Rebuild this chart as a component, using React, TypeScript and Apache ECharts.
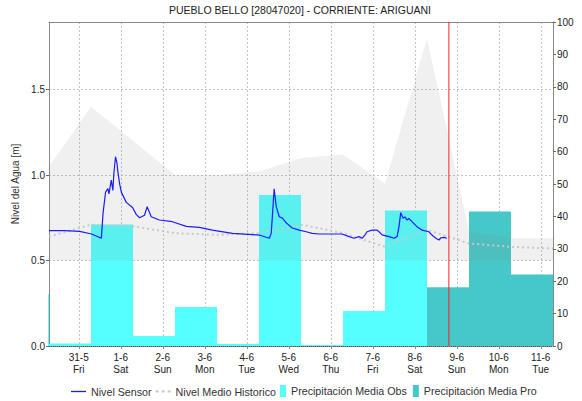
import React, { useEffect, useRef } from "react";
import * as echarts from "echarts";

const chartTitle = "PUEBLO BELLO [28047020] - CORRIENTE: ARIGUANI";
const yLeftName = "Nivel del Agua [m]";
const xMin = "2024-05-30 07:00";
const xMax = "2024-06-11 07:00";
const redLineTime = "2024-06-08 19:30";

const tickDays = [
  "2024-05-31 00:00", "2024-06-01 00:00", "2024-06-02 00:00", "2024-06-03 00:00",
  "2024-06-04 00:00", "2024-06-05 00:00", "2024-06-06 00:00", "2024-06-07 00:00",
  "2024-06-08 00:00", "2024-06-09 00:00", "2024-06-10 00:00", "2024-06-11 00:00",
];
const tickDates = ["31-5", "1-6", "2-6", "3-6", "4-6", "5-6", "6-6", "7-6", "8-6", "9-6", "10-6", "11-6"];
const tickWeekdays = ["Fri", "Sat", "Sun", "Mon", "Tue", "Wed", "Thu", "Fri", "Sat", "Sun", "Mon", "Tue"];

// Nivel Sensor
const sensorTimes = [
  "2024-05-30 07:00", "2024-05-30 16:00", "2024-05-31 00:30", "2024-05-31 07:20",
  "2024-05-31 12:55", "2024-05-31 13:55", "2024-05-31 15:20", "2024-05-31 16:40",
  "2024-05-31 17:15", "2024-05-31 18:35", "2024-05-31 19:30", "2024-05-31 20:05",
  "2024-05-31 21:00", "2024-05-31 21:50", "2024-05-31 22:20", "2024-05-31 23:20",
  "2024-06-01 00:20", "2024-06-01 03:10", "2024-06-01 06:45", "2024-06-01 08:50",
  "2024-06-01 10:45", "2024-06-01 13:35", "2024-06-01 15:05", "2024-06-01 17:25",
  "2024-06-01 22:05", "2024-06-02 05:30", "2024-06-02 13:25", "2024-06-02 20:55",
  "2024-06-03 04:20", "2024-06-03 15:50", "2024-06-04 07:10", "2024-06-04 12:55",
  "2024-06-04 14:00", "2024-06-04 15:40", "2024-06-04 16:50", "2024-06-04 18:35",
  "2024-06-04 20:20", "2024-06-04 22:35", "2024-06-05 02:00", "2024-06-05 06:00",
  "2024-06-05 10:00", "2024-06-05 13:25", "2024-06-05 17:25", "2024-06-06 06:30",
  "2024-06-06 10:30", "2024-06-06 13:20", "2024-06-06 16:10", "2024-06-06 17:55",
  "2024-06-06 19:35", "2024-06-06 20:45", "2024-06-06 23:35", "2024-06-07 02:30",
  "2024-06-07 03:35", "2024-06-07 05:20", "2024-06-07 09:20", "2024-06-07 12:10",
  "2024-06-07 13:55", "2024-06-07 15:00", "2024-06-07 16:00", "2024-06-07 17:20",
  "2024-06-07 18:25", "2024-06-07 19:35", "2024-06-07 20:45", "2024-06-07 22:25",
  "2024-06-08 01:15", "2024-06-08 04:05", "2024-06-08 08:05", "2024-06-08 09:50",
  "2024-06-08 12:05", "2024-06-08 13:50", "2024-06-08 15:00", "2024-06-08 16:40",
  "2024-06-08 18:25",
];
const sensorValues = [
  0.675, 0.675, 0.67, 0.655,
  0.63, 0.78, 0.9, 0.92,
  0.89, 0.97, 0.91, 1.01,
  1.107, 1.07, 1.02, 0.95,
  0.9, 0.84, 0.81, 0.77,
  0.75, 0.765, 0.815, 0.756,
  0.737, 0.727, 0.7, 0.694,
  0.678, 0.659, 0.649, 0.63,
  0.66, 0.92, 0.815, 0.756,
  0.748, 0.72, 0.69, 0.678,
  0.668, 0.659, 0.655, 0.655,
  0.64, 0.63, 0.64, 0.63,
  0.65, 0.668, 0.678, 0.678,
  0.668, 0.65, 0.64, 0.63,
  0.64, 0.7, 0.78, 0.747,
  0.755, 0.737, 0.745, 0.727,
  0.698, 0.678, 0.668, 0.649,
  0.63, 0.62, 0.633, 0.635,
  0.63,
];

// Historic daily values (07:00 each day)
const histTimes = [
  "2024-05-30 07:00", "2024-05-31 07:00", "2024-06-01 07:00", "2024-06-02 07:00",
  "2024-06-03 07:00", "2024-06-04 07:00", "2024-06-05 07:00", "2024-06-06 07:00",
  "2024-06-07 07:00", "2024-06-08 07:00", "2024-06-09 07:00", "2024-06-10 07:00",
  "2024-06-11 07:00",
];
const histMean = [0.64, 0.71, 0.7, 0.66, 0.65, 0.66, 0.71, 0.66, 0.58, 0.68, 0.6, 0.58, 0.57];
const histMin = [0.5, 0.5, 0.5, 0.5, 0.5, 0.5, 0.5, 0.5, 0.5, 0.5, 0.5, 0.5, 0.5];
const histMax = [1.05, 1.4, 1.2, 1.0, 1.0, 1.02, 1.1, 1.12, 0.95, 1.8, 0.67, 0.63, 0.63];

// Daily precipitation (07:00 to 07:00)
const obsStarts = [
  "2024-05-29 07:00", "2024-05-30 07:00", "2024-05-31 07:00", "2024-06-01 07:00",
  "2024-06-02 07:00", "2024-06-03 07:00", "2024-06-04 07:00", "2024-06-05 07:00",
  "2024-06-06 07:00", "2024-06-07 07:00",
];
const obsValues = [16, 0.8, 37.5, 3.1, 12.0, 0.6, 46.6, 0.3, 10.8, 41.8];
const proStarts = ["2024-06-08 07:00", "2024-06-09 07:00", "2024-06-10 07:00"];
const proValues = [18.1, 41.5, 22.1];

// time string -> hours since 2024-05-31 00:00
const ORIGIN = Date.UTC(2024, 4, 31, 0, 0);
const hrs = (s: string) => {
  const [d, t] = s.split(" ");
  const [y, m, dd] = d.split("-").map(Number);
  const [h, mi] = t.split(":").map(Number);
  return (Date.UTC(y, m - 1, dd, h, mi) - ORIGIN) / 3600000;
};

export default function App() {
  const ref = useRef<HTMLDivElement>(null);
  useEffect(() => {
    if (!ref.current) return;
    const chart = echarts.init(ref.current, undefined, { renderer: "svg" });
    const tickH = tickDays.map(hrs);
    const font = "'Liberation Sans', Arial, sans-serif";

    const barRender = (params: any, api: any) => {
      const s = api.coord([api.value(0), 0]);
      const e = api.coord([api.value(1), api.value(2)]);
      const cs = params.coordSys;
      const shape = echarts.graphic.clipRectByRect(
        { x: s[0], y: e[1], width: e[0] - s[0], height: s[1] - e[1] },
        { x: cs.x - 1, y: cs.y, width: cs.width + 1, height: cs.height }
      );
      if (!shape) return null;
      return { type: "rect", shape, style: { fill: api.visual("color") } };
    };

    const bandRender = (params: any, api: any) => {
      const top = histTimes.map((t, i) => api.coord([hrs(t), histMax[i]]));
      const bot = histTimes.map((t, i) => api.coord([hrs(t), histMin[i]])).reverse();
      return {
        type: "polygon",
        shape: { points: top.concat(bot) },
        style: { fill: "rgba(128,128,128,0.12)" },
      };
    };

    const redRender = (params: any, api: any) => {
      const p = api.coord([api.value(0), 0]);
      const cs = params.coordSys;
      return {
        type: "line",
        shape: { x1: p[0], y1: cs.y, x2: p[0], y2: cs.y + cs.height },
        style: { stroke: "#ff2020", lineWidth: 1 },
      };
    };

    const gridLine = { show: true, lineStyle: { color: "#c4c4c4", type: [2, 2], width: 1 } };
    const legendText = { fontSize: 10.7, color: "#333", fontFamily: font };

    const option: any = {
      animation: false,
      textStyle: { fontFamily: font },
      title: {
        text: chartTitle,
        left: 169,
        top: 4,
        padding: 0,
        textStyle: { fontSize: 10.5, fontWeight: "normal", color: "#222", fontFamily: font },
      },
      grid: { left: 49, right: 29, top: 22, bottom: 55 },
      legend: [
        {
          bottom: 4,
          left: 71,
          padding: 0,
          itemGap: 4,
          itemWidth: 15,
          itemHeight: 12,
          textStyle: legendText,
          data: [
            { name: "Nivel Sensor", icon: "path://M0,0h15v1.3h-15z" },
            { name: "Nivel Medio Historico", icon: "path://M0,0h3v2h-3zM6,0h3v2h-3zM12,0h3v2h-3z" },
          ],
        },
        {
          bottom: 4,
          left: 280,
          padding: 0,
          itemGap: 6,
          itemWidth: 6,
          itemHeight: 12,
          textStyle: legendText,
          data: [
            { name: "Precipitación Media Obs", icon: "rect" },
            { name: "Precipitación Media Pro", icon: "rect" },
          ],
        },
      ],
      xAxis: [
        {
          type: "value",
          min: hrs(xMin),
          max: hrs(xMax),
          axisLine: { onZero: false, lineStyle: { color: "#555", type: "dotted" } },
          axisTick: { show: true, length: 3, customValues: tickH, lineStyle: { color: "#888" } },
          axisLabel: {
            customValues: tickH,
            color: "#222",
            fontSize: 10,
            lineHeight: 12,
            margin: 5,
            formatter: (v: number) => {
              const i = tickH.indexOf(v);
              return i >= 0 ? tickDates[i] + "\n" + tickWeekdays[i] : "";
            },
          },
          splitLine: gridLine,
        },
        {
          type: "value",
          position: "top",
          min: hrs(xMin),
          max: hrs(xMax),
          axisLine: { show: true, onZero: false, lineStyle: { color: "#888" } },
          axisTick: { show: false },
          axisLabel: { show: false },
          splitLine: { show: false },
        },
      ],
      yAxis: [
        {
          type: "value",
          min: 0,
          max: 1.895,
          interval: 0.5,
          name: yLeftName,
          nameLocation: "middle",
          nameGap: 24,
          nameTextStyle: { fontSize: 10, color: "#333", fontFamily: font },
          axisLine: { show: true, onZero: false, lineStyle: { color: "#888" } },
          axisTick: { show: true, length: 3, lineStyle: { color: "#666" } },
          axisLabel: {
            color: "#222",
            fontSize: 10,
            margin: 4,
            showMaxLabel: false,
            formatter: (v: number) => v.toFixed(1),
          },
          splitLine: gridLine,
        },
        {
          type: "value",
          min: 0,
          max: 100,
          interval: 10,
          position: "right",
          axisLine: { show: true, onZero: false, lineStyle: { color: "#888" } },
          axisTick: { show: true, length: 3, lineStyle: { color: "#666" } },
          axisLabel: { color: "#222", fontSize: 10, margin: 4 },
          splitLine: { show: false },
        },
      ],
      series: [
        {
          name: "Precipitación Media Obs",
          type: "custom",
          yAxisIndex: 1,
          z: 1,
          renderItem: barRender,
          itemStyle: { color: "#55ffff" },
          encode: { x: [0, 1], y: 2 },
          data: obsStarts.map((s, i) => [hrs(s), hrs(s) + 24, obsValues[i]]),
        },
        {
          name: "Precipitación Media Pro",
          type: "custom",
          yAxisIndex: 1,
          z: 1,
          renderItem: barRender,
          itemStyle: { color: "#47c8c8" },
          encode: { x: [0, 1], y: 2 },
          data: proStarts.map((s, i) => [hrs(s), hrs(s) + 24, proValues[i]]),
        },
        {
          name: "band",
          type: "custom",
          z: 2,
          silent: true,
          renderItem: bandRender,
          encode: { x: 0, y: 1 },
          data: [[hrs(histTimes[0]), histMin[0]]],
        },
        {
          name: "Nivel Medio Historico",
          type: "line",
          z: 3,
          symbol: "none",
          itemStyle: { color: "#c8c8c8" },
          lineStyle: { color: "#c8c8c8", width: 2, type: [2, 3] },
          data: histTimes.map((t, i) => [hrs(t), histMean[i]]),
        },
        {
          name: "Nivel Sensor",
          type: "line",
          z: 4,
          symbol: "none",
          itemStyle: { color: "#1a1aff" },
          lineStyle: { color: "#1a1aff", width: 1.2 },
          data: sensorTimes.map((t, i) => [hrs(t), sensorValues[i]]),
        },
        {
          name: "now",
          type: "custom",
          z: 5,
          silent: true,
          renderItem: redRender,
          encode: { x: 0, y: 1 },
          data: [[hrs(redLineTime), 0]],
        },
      ],
    };
    chart.setOption(option);
    return () => chart.dispose();
  }, []);
  return (
    <div
      ref={ref}
      style={{ position: "fixed", left: 0, top: 0, width: 582, height: 401, background: "#fff" }}
    />
  );
}
